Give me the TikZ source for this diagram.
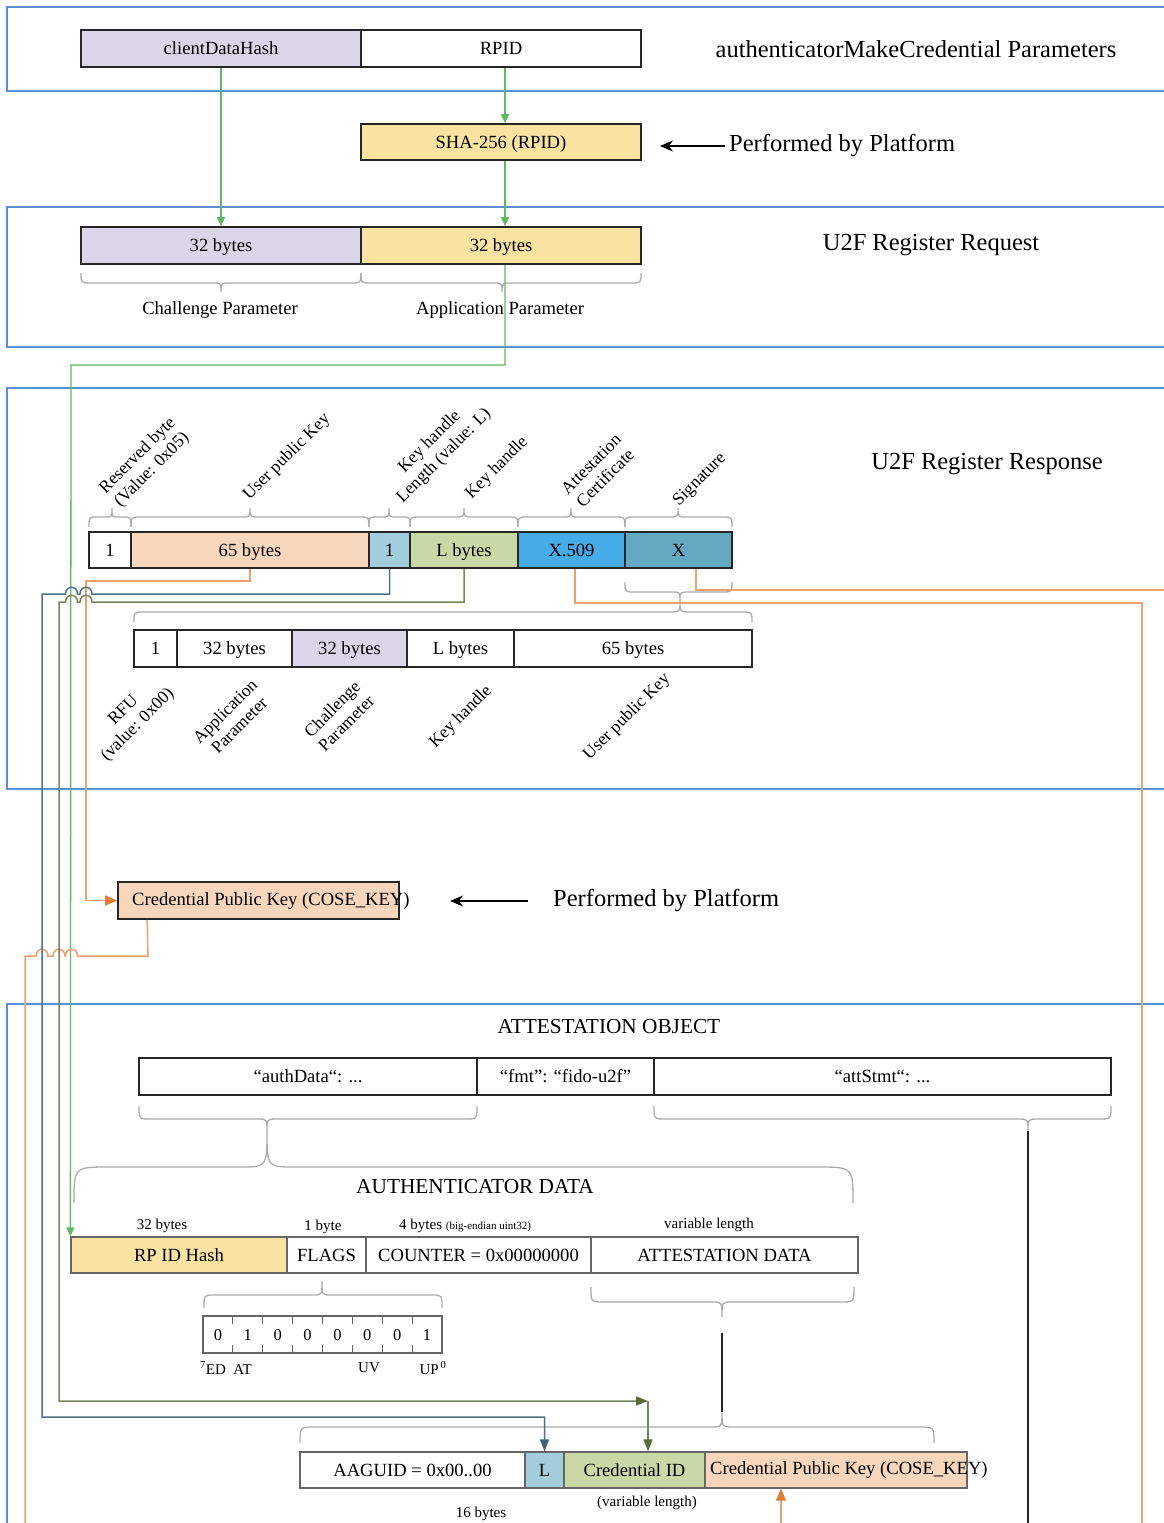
\documentclass[tikz,border=0pt]{standalone}
\usepackage{fontspec}
\setmainfont{Liberation Serif}
\usetikzlibrary{arrows.meta,calc}
\definecolor{panelblue}{HTML}{5A8FD8}
\definecolor{lgreen}{HTML}{5DB962}
\definecolor{lorange}{HTML}{EFA06E}
\definecolor{dorange}{HTML}{E87B30}
\definecolor{lslate}{HTML}{4F7386}
\definecolor{dslate}{HTML}{3C6578}
\definecolor{lolive}{HTML}{77855A}
\definecolor{dolive}{HTML}{5C6B38}
\definecolor{lav}{HTML}{DAD5E7}
\definecolor{yel}{HTML}{FAE3A0}
\definecolor{peach}{HTML}{F7D6BB}
\definecolor{lblue}{HTML}{A1CDDD}
\definecolor{lgr}{HTML}{C9D9A6}
\definecolor{xblue}{HTML}{45ACE7}
\definecolor{tealc}{HTML}{63A9C1}
\definecolor{bgray}{HTML}{ABABAB}
\newcommand\fbig{\fontsize{24.5}{29}\selectfont}
\newcommand\fhead{\fontsize{21.3}{25}\selectfont}
\newcommand\fmed{\fontsize{18.6}{22}\selectfont}
\newcommand\fsm{\fontsize{15}{18}\selectfont}
\newcommand\frot{\fontsize{17.5}{20}\selectfont}
\newcommand\ftin{\fontsize{11}{13}\selectfont}
\newcommand\fbit{\fontsize{16.5}{19}\selectfont}
\newcommand\cellat[7][]{\node[cell,minimum width={#4-#3},minimum height={#6-#5},#1] (#2) at ({(#3+#4)/2},{(#5+#6)/2}) {#7};}
\newcommand\hbr[8]{\draw[brc] (#1,#4) .. controls (#1,#5) .. ({#1+#7},#5) -- ({#3-#8},#5) .. controls (#3,#5) .. (#3,#6) .. controls (#3,#5) .. ({#3+#8},#5) -- ({#2-#7},#5) .. controls (#2,#5) .. (#2,#4);}
\begin{document}
\begin{tikzpicture}[x=1pt,y=-1pt,
  panel/.style={draw=panelblue,line width=2pt},
  cell/.style={draw=black!85,line width=1.7pt,inner sep=0pt,font=\fmed,text height=14pt,text depth=2pt},
  cellg/.style={cell,draw=black!60,line width=1.3pt},
  brc/.style={draw=bgray,line width=1.3pt},
  gline/.style={draw=lgreen,line width=1.3pt},
  oline/.style={draw=lorange,line width=1.5pt},
  sline/.style={draw=lslate,line width=1.5pt},
  vline/.style={draw=lolive,line width=1.5pt},
  kline/.style={draw=black!85,line width=1.3pt},
  gtip/.style={-{Triangle[length=9pt,width=8pt,color=lgreen]}},
  otip/.style={-{Triangle[length=12pt,width=10pt,color=dorange]}},
  stip/.style={-{Triangle[length=12pt,width=9pt,color=dslate]}},
  vtip/.style={-{Triangle[length=12pt,width=9pt,color=dolive]}},
  ktip/.style={-{Stealth[length=13pt,width=11pt]}},
  rot/.style={rotate=45,align=center,font=\frot,inner sep=1pt},
  txt/.style={inner sep=0pt}]
\useasboundingbox (0,0) rectangle (1164,1523);
\clip (0,0) rectangle (1164,1523);
% panels
\draw[panel] (7,7) rectangle (1185,91);
\draw[panel] (7,207) rectangle (1185,347);
\draw[panel] (7,388) rectangle (1185,789);
\draw[panel] (7,1004) rectangle (1185,1545);

% braces
\hbr{81}{361}{221}{273}{283}{292}{10}{9}
\hbr{361}{641}{502}{273}{283}{292}{10}{9}
\hbr{89}{131}{112}{527}{517}{508}{8}{7}
\hbr{131}{369}{250}{527}{517}{508}{10}{9}
\hbr{369}{410}{389}{527}{517}{508}{8}{7}
\hbr{410}{518}{464}{527}{517}{508}{10}{9}
\hbr{518}{625}{571}{527}{517}{508}{10}{9}
\hbr{625}{732}{678}{527}{517}{508}{10}{9}
\hbr{625}{732}{680}{582}{592}{601}{10}{9}
\hbr{134}{752}{680}{622}{612}{601}{10}{9}
\hbr{139}{477}{267}{1106}{1119}{1131}{12}{10}
\hbr{654}{1111}{1028}{1106}{1119}{1131}{12}{10}
\hbr{74}{853}{267}{1203}{1167}{1131}{35}{28}
\hbr{204}{442}{322}{1308}{1295}{1281}{10}{9}
\hbr{591}{854}{722}{1287}{1302}{1317}{12}{10}
\hbr{300}{934}{722}{1443}{1427}{1412}{15}{12}

% boxes
\cellat[fill=lav]{cdh}{81}{361}{30}{67}{clientDataHash}
\cellat[fill=white]{rpid}{361}{641}{30}{67}{RPID}
\cellat[fill=yel]{sha}{361}{641}{124}{160}{SHA-256 (RPID)}
\cellat[fill=lav]{chal}{81}{361}{227}{264}{32 bytes}
\cellat[fill=yel]{appp}{361}{641}{227}{264}{32 bytes}

\cellat[fill=white]{r1}{89}{131}{532}{568}{1}
\cellat[fill=peach]{b65}{131}{369}{532}{568}{65 bytes}
\cellat[fill=lblue]{one1}{369}{410}{532}{568}{1}
\cellat[fill=lgr]{lb}{410}{518}{532}{568}{L bytes}
\cellat[fill=xblue]{x509}{518}{625}{532}{568}{X.509}
\cellat[fill=tealc]{xs}{625}{732}{532}{568}{X}

\cellat[fill=white]{s1}{134}{177}{630}{667}{1}
\cellat[fill=white]{s2}{177}{292}{630}{667}{32 bytes}
\cellat[fill=lav]{s3}{292}{407}{630}{667}{32 bytes}
\cellat[fill=white]{s4}{407}{514}{630}{667}{L bytes}
\cellat[fill=white]{s5}{514}{752}{630}{667}{65 bytes}

\cellat[fill=peach]{cpk}{118}{399}{882}{919}{}

\cellat[fill=white]{ad}{139}{477}{1058}{1095}{“authData“: ...}
\cellat[fill=white]{fmt}{477}{654}{1058}{1095}{“fmt”: “fido-u2f”}
\cellat[fill=white]{att}{654}{1111}{1058}{1095}{“attStmt“: ...}

\cellat[cellg,fill=yel]{rpidh}{71}{287}{1237}{1273}{RP ID Hash}
\cellat[cellg,fill=white]{flags}{287}{366}{1237}{1273}{FLAGS}
\cellat[cellg,fill=white]{ctr}{366}{591}{1237}{1273}{COUNTER = 0x00000000}
\cellat[cellg,fill=white]{attd}{591}{858}{1237}{1273}{ATTESTATION DATA}

\cellat[cellg,fill=white]{bits}{203}{442}{1316}{1353}{}
\foreach \i in {1,...,7}{
  \draw[black!60,line width=1.1pt] ({203+\i*29.875},1316) -- ++(0,8);
  \draw[black!60,line width=1.1pt] ({203+\i*29.875},1353) -- ++(0,-8);
}
\foreach \d [count=\i] in {0,1,0,0,0,0,0,1}
  \node[txt,font=\fbit] (bit\i) at ({203+(\i-0.5)*29.875},1335) {\d};

\cellat[cellg,fill=white]{aag}{300}{525}{1452}{1488}{AAGUID = 0x00..00}
\cellat[cellg,fill=lblue]{lbox}{525}{564}{1452}{1488}{L}
\cellat[cellg,fill=lgr]{credid}{564}{705}{1452}{1488}{Credential ID}
\cellat[cellg,fill=peach]{cpk2}{705}{967}{1452}{1488}{}

% black connector lines
\draw[kline] (1028,1131) -- (1028,1545);
\draw[kline] (722,1333) -- (722,1412);

% green connectors
\draw[gline,gtip] (cdh.south) -- (chal.north);
\draw[gline,gtip] ($(rpid.south)+(4,0)$) -- ($(sha.north)+(4,0)$);
\draw[gline,gtip] ($(sha.south)+(4,0)$) -- ($(appp.north)+(4,0)$);
\draw[gline,gtip] ($(appp.south)+(4,0)$) -- (505,365) -- (71,365) -- (rpidh.north west);

% orange connectors
\draw[oline,otip] (b65.south) -- (250,581) -- (86,581) |- (cpk.west);
\draw[oline] ($(cpk.south west)+(30,0)$) -- (148,956) -- (77.5,956)
  .. controls (77.5,947) and (65.5,947) .. (65.5,956) -- (65,956)
  .. controls (65,947) and (53,947) .. (53,956) -- (48,956)
  .. controls (48,947) and (36,947) .. (36,956) -- (25,956) -- (25,1545);
\draw[oline] ($(x509.south)+(3.5,0)$) -- (575,603) -- (1142,603) -- (1142,1545);
\draw[oline] ($(xs.south)+(17.5,0)$) -- (696,590) -- (1185,590);
\coordinate (obot) at (781,1545);
\draw[oline,otip] (obot) -- (obot |- cpk2.south);

% slate connector
\draw[sline,stip] (one1.south) -- (389.5,594) -- (92,594)
  .. controls (92,585) and (80,585) .. (80,594) -- (77.5,594)
  .. controls (77.5,585) and (65.5,585) .. (65.5,594) -- (42,594) -- (42,1417) -| (lbox.north);

% olive connector
\coordinate (olend) at (648,1401);
\draw[vline,vtip] (lb.south) -- (464,602) -- (92,602)
  .. controls (92,593) and (80,593) .. (80,602) -- (77.5,602)
  .. controls (77.5,593) and (65.5,593) .. (65.5,602) -- (59,602) -- (59,1401) -- (olend);
\draw[vline,vtip] (olend) -- (olend |- credid.north);

% texts
\node[font=\fbig] (amcp) at (916,49) {authenticatorMakeCredential Parameters};
\node[font=\fbig,anchor=west,inner sep=4pt] (pbp1) at (725,146) {Performed by Platform};
\draw[black,line width=1.3pt,ktip] (pbp1.west) -- (pbp1.west -| 660,0);
\node[font=\fbig] (u2freq) at (931,245) {U2F Register Request};
\node[font=\fmed] (chpl) at (220,310) {Challenge Parameter};
\node[font=\fmed] (appl) at (500,310) {Application Parameter};
\node[font=\fbig] (u2fres) at (987,464) {U2F Register Response};

\node[rot] (lr1) at (145,463) {Reserved byte\\(Value: 0x05)};
\node[rot] (lr2) at (287,457) {User public Key};
\node[rot] (lr3) at (437,449) {Key handle\\Length (value: L)};
\node[rot] (lr4) at (497,468) {Key handle};
\node[rot] (lr5) at (598,471) {Attestation\\Certificate};
\node[rot] (lr6) at (700,480) {Signature};

\node[rot] (ls1) at (131,718) {RFU\\(value: 0x00)};
\node[rot] (ls2) at (232,718) {Application\\Parameter};
\node[rot] (ls3) at (339,716) {Challenge\\Parameter};
\node[rot] (ls4) at (461,717) {Key handle};
\node[rot] (ls5) at (627,717) {User public Key};

\node[font=\fmed,anchor=west,txt] (cpkt) at (132,901) {Credential Public Key (COSE\_KEY)};
\node[font=\fbig,anchor=west,inner sep=4pt] (pbp2) at (549,901) {Performed by Platform};
\draw[black,line width=1.3pt,ktip] ($(pbp2.west)+(-21,0)$) -- (pbp2.west -| 450,0);

\node[font=\fhead,inner sep=0pt] (aot) at (609,1027) {ATTESTATION OBJECT};
\node[font=\fhead,inner sep=0pt] (adt) at (475,1187) {AUTHENTICATOR DATA};
\node[font=\fsm] (l32) at (162,1226) {32 bytes};
\node[font=\fsm] (l1b) at (323,1227) {1 byte};
\node[font=\fsm,anchor=west,txt] (l4b) at (399,1226) {4 bytes {\ftin (big-endian uint32)}};
\node[font=\fsm] (lvl) at (709,1225) {variable length};

\node[font=\fsm,anchor=west,txt] (fed) at (200,1368) {\textsuperscript{7}ED\ \ AT};
\node[font=\fsm,txt] (fuv) at (369,1368) {UV};
\node[font=\fsm,txt] (fup) at (433,1368) {UP\textsuperscript{\,0}};

\node[font=\fmed,anchor=west,txt] (cpkt2) at (710,1470) {Credential Public Key (COSE\_KEY)};
\node[font=\fsm] (vlen) at (647,1503) {(variable length)};
\node[font=\fsm] (b16) at (481,1514) {16 bytes};
\end{tikzpicture}
\end{document}
